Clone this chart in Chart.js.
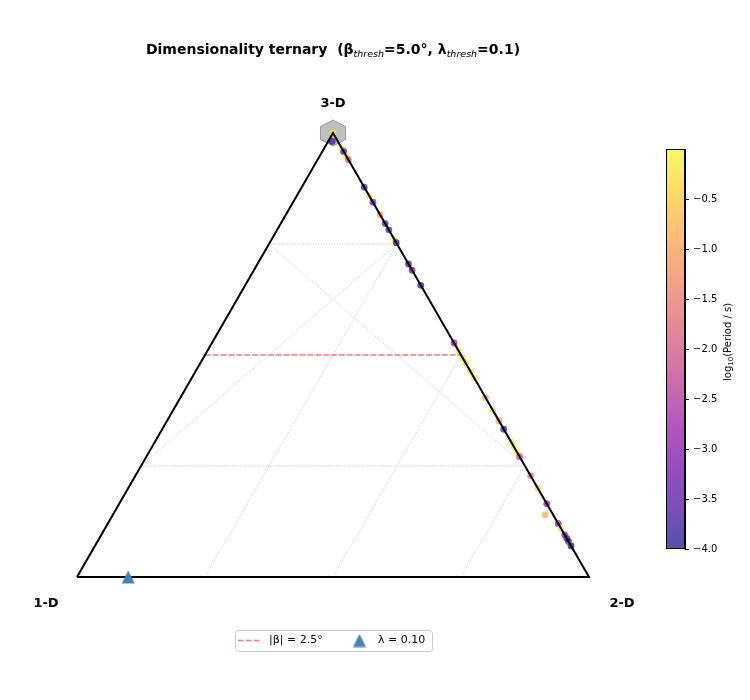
<!DOCTYPE html>
<html><head><meta charset="utf-8">
<script src="https://cdn.jsdelivr.net/npm/chart.js@4.4.0/dist/chart.umd.min.js"></script>
<style>
body{margin:0;background:#fff;}
#wrap{position:relative;width:750px;height:700px;font-family:"DejaVu Sans",sans-serif;color:#000;overflow:hidden;}
#main{position:absolute;left:0;top:0;}
#cbar{position:absolute;left:640px;top:130px;}
#title{position:absolute;left:0;width:666px;top:40px;text-align:center;font-weight:bold;font-size:14px;line-height:18px;white-space:nowrap;}
#title sub{font-size:9.5px;font-style:italic;font-weight:normal;line-height:0;vertical-align:-3px;}
#cblabel{position:absolute;left:728px;top:342px;transform:translate(-50%,-50%) rotate(-90deg);font-size:10px;white-space:nowrap;line-height:12px;}
#cblabel sub{font-size:7px;line-height:0;vertical-align:-2px;}
</style>
</head><body>
<div id="wrap">
<canvas id="main" width="750" height="700"></canvas>
<canvas id="cbar" width="110" height="440"></canvas>
<div id="title">Dimensionality ternary&nbsp; (β<sub>thresh</sub>=5.0°, λ<sub>thresh</sub>=0.1)</div>
<div id="cblabel">log<sub>10</sub>(Period / s)</div>
</div>
<script>
// ---------------- data ----------------
const vertexLabels = ['1-D', '2-D', '3-D'];
// ternary fractions of each point (1-D, 2-D, 3-D) and colour value
const frac1D = [0, 0.011, 0, 0, 0, 0, 0, 0, 0, 0, 0, 0, 0, 0, 0, 0, 0, 0, 0, 0, 0, 0, 0, 0, 0, 0, 0, 0, 0, 0, 0, 0, 0, 0, 0.016, 0, 0, 0, 0, 0, 0, 0];
const frac2D = [0, 0.008, 0.037, 0.042, 0.052, 0.060, 0.122, 0.142, 0.156, 0.184, 0.204, 0.218, 0.242, 0.247, 0.295, 0.309, 0.343, 0.473, 0.491, 0.507, 0.518, 0.537, 0.552, 0.596, 0.624, 0.648, 0.667, 0.697, 0.708, 0.720, 0.729, 0.772, 0.800, 0.835, 0.844, 0.880, 0.890, 0.905, 0.913, 0.920, 0.928, 0.930];
const frac3D = [1.000, 0.981, 0.963, 0.958, 0.948, 0.940, 0.878, 0.858, 0.844, 0.816, 0.796, 0.782, 0.758, 0.753, 0.705, 0.691, 0.657, 0.527, 0.509, 0.493, 0.482, 0.463, 0.448, 0.404, 0.376, 0.352, 0.333, 0.303, 0.292, 0.280, 0.271, 0.228, 0.200, 0.165, 0.140, 0.120, 0.110, 0.095, 0.087, 0.080, 0.072, 0.070];
const logPeriod = [-0.05, -3.7, -0.3, -3.5, -0.2, -2.0, -3.6, -0.1, -3.0, -1.0, -3.6, -3.4, -0.2, -3.8, -3.6, -3.1, -3.8, -2.9, -0.1, -0.3, -0.2, -0.15, -0.3, -0.9, -0.3, -1.0, -3.7, -0.2, -0.1, -0.25, -2.2, -1.4, -0.2, -2.8, -0.8, -2.9, -0.2, -3.0, -3.6, -3.8, -0.3, -3.7];
const isotropicPoint = [0, 0, 1];      // hexagon marker (1-D, 2-D, 3-D)
const lambdaPoint = [0.9, 0.1, 0];     // λ = 0.10 marker
const betaLevel = 0.5;                 // |β| = 2.5° line (3-D fraction)
const gridLevels = [0.25, 0.5, 0.75];
const colorMin = -4.0, colorMax = 0.0;
const cbTicks = [-4.0, -3.5, -3.0, -2.5, -2.0, -1.5, -1.0, -0.5];
const legendLabels = ['|β| = 2.5°', 'λ = 0.10'];

// ---------------- helpers ----------------
const SQ3 = Math.sqrt(3) / 2;
function toXY(a, b, c) { const s = a + b + c; return { x: (b + c / 2) / s, y: c * SQ3 / s }; }
const PLASMA = [[13,8,135],[65,4,157],[106,0,168],[143,13,164],[177,42,144],[204,71,120],[225,100,98],[242,132,75],[252,166,54],[252,206,37],[240,249,33]];
function plasma(t, alpha) {
  t = Math.max(0, Math.min(1, t));
  const p = t * 10, i = Math.min(9, Math.floor(p)), f = p - i;
  const c = PLASMA[i].map((v, k) => Math.round(v + (PLASMA[i + 1][k] - v) * f));
  return `rgba(${c[0]},${c[1]},${c[2]},${alpha})`;
}
function norm(v) { return (v - colorMin) / (colorMax - colorMin); }

function hexCanvas() {
  const c = document.createElement('canvas'); c.width = 28; c.height = 28;
  const g = c.getContext('2d'); const cx = 14, cy = 14;
  const pts = [[0,-13],[12.5,-6.5],[12.5,6.5],[0,13],[-12.5,6.5],[-12.5,-6.5]];
  g.beginPath(); pts.forEach((p, i) => i ? g.lineTo(cx + p[0], cy + p[1]) : g.moveTo(cx + p[0], cy + p[1])); g.closePath();
  g.fillStyle = 'rgba(128,128,128,0.5)'; g.fill();
  g.strokeStyle = 'rgba(100,100,100,0.55)'; g.lineWidth = 1; g.stroke();
  return c;
}
function triCanvas(color) {
  const c = document.createElement('canvas'); c.width = 14; c.height = 14;
  const g = c.getContext('2d');
  g.beginPath(); g.moveTo(7, 0.5); g.lineTo(13.5, 13.5); g.lineTo(0.5, 13.5); g.closePath();
  g.fillStyle = color; g.fill();
  return c;
}
const LAMBDA_COLOR = '#4682b4';
const triImg = triCanvas(LAMBDA_COLOR);

// ---------------- datasets ----------------
const V1 = toXY(1, 0, 0), V2 = toXY(0, 1, 0), V3 = toXY(0, 0, 1);
const pts = frac3D.map((c, i) => toXY(frac1D[i], frac2D[i], c));
const ptColors = logPeriod.map(v => plasma(norm(v), 0.7));

const gridSets = [];
gridLevels.forEach(f => {
  // constant 3-D fraction (horizontal)
  gridSets.push([toXY(1 - f, 0, f), toXY(0, 1 - f, f)]);
  // bottom edge -> right edge
  gridSets.push([toXY(1 - f, f, 0), toXY(0, f, 1 - f)]);
  // left edge -> right edge
  gridSets.push([toXY(1 - f, 0, f), toXY(0, f, 1 - f)]);
});

const datasets = [
  { label: legendLabels[1], data: [toXY(...lambdaPoint)], pointStyle: triImg, pointRadius: 7, clip: false },
  { label: 'triangle', data: [V1, V2, V3, V1], showLine: true, borderColor: '#000', borderWidth: 2, pointRadius: 0, clip: false, borderJoinStyle: 'miter' },
  { label: 'points', data: pts, pointRadius: 3.4, pointBorderWidth: 0, pointBackgroundColor: ptColors, backgroundColor: ptColors, clip: false },
  { label: 'isotropic', data: [toXY(...isotropicPoint)], pointStyle: hexCanvas(), pointRadius: 13, clip: false },
  { label: legendLabels[0], data: [toXY(1 - betaLevel, 0, betaLevel), toXY(0, 1 - betaLevel, betaLevel)], showLine: true, borderColor: '#fa8072', borderWidth: 1.6, borderDash: [5.5, 2.4], pointRadius: 0, clip: false },
  ...gridSets.map(seg => ({ label: 'grid', data: seg, showLine: true, borderColor: '#b4b4b4', borderWidth: 0.8, borderDash: [1, 1.6], pointRadius: 0, clip: false }))
];

// ---------------- plugins ----------------
const decor = {
  id: 'decor',
  afterDraw(chart) {
    const ctx = chart.ctx, xs = chart.scales.x, ys = chart.scales.y;
    ctx.save();
    ctx.fillStyle = '#000';
    ctx.font = 'bold 13px "DejaVu Sans"';
    ctx.textAlign = 'center'; ctx.textBaseline = 'middle';
    const vs = [V1, V2, V3], off = [[-31, 27], [33, 27], [0, -29]];
    vs.forEach((v, i) => ctx.fillText(vertexLabels[i], xs.getPixelForValue(v.x) + off[i][0], ys.getPixelForValue(v.y) + off[i][1]));
    // legend
    const bx = 235.5, by = 630.5, bw = 197, bh = 21, r = 3;
    ctx.beginPath();
    ctx.moveTo(bx + r, by); ctx.lineTo(bx + bw - r, by); ctx.arcTo(bx + bw, by, bx + bw, by + r, r);
    ctx.lineTo(bx + bw, by + bh - r); ctx.arcTo(bx + bw, by + bh, bx + bw - r, by + bh, r);
    ctx.lineTo(bx + r, by + bh); ctx.arcTo(bx, by + bh, bx, by + bh - r, r);
    ctx.lineTo(bx, by + r); ctx.arcTo(bx, by, bx + r, by, r); ctx.closePath();
    ctx.fillStyle = 'rgba(255,255,255,0.8)'; ctx.fill();
    ctx.strokeStyle = '#cccccc'; ctx.lineWidth = 1; ctx.stroke();
    const beta = chart.data.datasets[4], lam = chart.data.datasets[0];
    const ly = 640.5;
    ctx.beginPath(); ctx.setLineDash(beta.borderDash); ctx.strokeStyle = beta.borderColor; ctx.lineWidth = beta.borderWidth;
    ctx.moveTo(238, ly); ctx.lineTo(261, ly); ctx.stroke(); ctx.setLineDash([]);
    ctx.drawImage(lam.pointStyle, 359.5 - 7, ly - 7);
    ctx.fillStyle = '#000'; ctx.font = '11px "DejaVu Sans"'; ctx.textAlign = 'left'; ctx.textBaseline = 'middle';
    ctx.fillText(beta.label, 269, ly);
    ctx.fillText(lam.label, 378, ly);
    ctx.restore();
  }
};

new Chart(document.getElementById('main'), {
  type: 'scatter',
  data: { datasets },
  options: {
    responsive: false, animation: false, devicePixelRatio: 1, events: [],
    layout: { padding: { left: 77, right: 161, top: 133, bottom: 123 } },
    scales: {
      x: { type: 'linear', min: 0, max: 1, display: false },
      y: { type: 'linear', min: 0, max: SQ3, display: false }
    },
    plugins: { legend: { display: false }, tooltip: { enabled: false }, title: { display: false } }
  },
  plugins: [decor]
});

// ---------------- colour bar ----------------
const cbFill = {
  id: 'cbFill',
  beforeDatasetsDraw(chart) {
    const { ctx, chartArea: a } = chart;
    const g = ctx.createLinearGradient(0, a.bottom, 0, a.top);
    for (let i = 0; i <= 40; i++) { const t = i / 40; g.addColorStop(t, plasma(t, 0.7)); }
    ctx.save();
    ctx.fillStyle = '#fff'; ctx.fillRect(a.left, a.top, a.right - a.left, a.bottom - a.top);
    ctx.fillStyle = g; ctx.fillRect(a.left, a.top, a.right - a.left, a.bottom - a.top);
    ctx.strokeStyle = '#000'; ctx.lineWidth = 1;
    ctx.strokeRect(Math.round(a.left) + 0.5, Math.round(a.top) + 0.5, Math.round(a.right - a.left) - 1, Math.round(a.bottom - a.top) - 1);
    ctx.restore();
  }
};
new Chart(document.getElementById('cbar'), {
  type: 'scatter',
  data: { datasets: [] },
  options: {
    responsive: false, animation: false, devicePixelRatio: 1, events: [],
    layout: { padding: { left: 26, right: 0, top: 19, bottom: 21 } },
    scales: {
      x: { display: false, min: 0, max: 1 },
      y: {
        position: 'right', min: colorMin, max: colorMax,
        afterFit(s) { s.width = 65; },
        afterBuildTicks(s) { s.ticks = cbTicks.map(v => ({ value: v })); },
        ticks: { font: { family: 'DejaVu Sans', size: 10 }, color: '#000', padding: 4,
                 callback: v => v.toFixed(1).replace('-', '\u2212') },
        grid: { drawOnChartArea: false, tickLength: 4, color: '#000', tickColor: '#000' },
        border: { display: true, color: '#000' }
      }
    },
    plugins: { legend: { display: false }, tooltip: { enabled: false } }
  },
  plugins: [cbFill]
});
</script>
</body></html>
